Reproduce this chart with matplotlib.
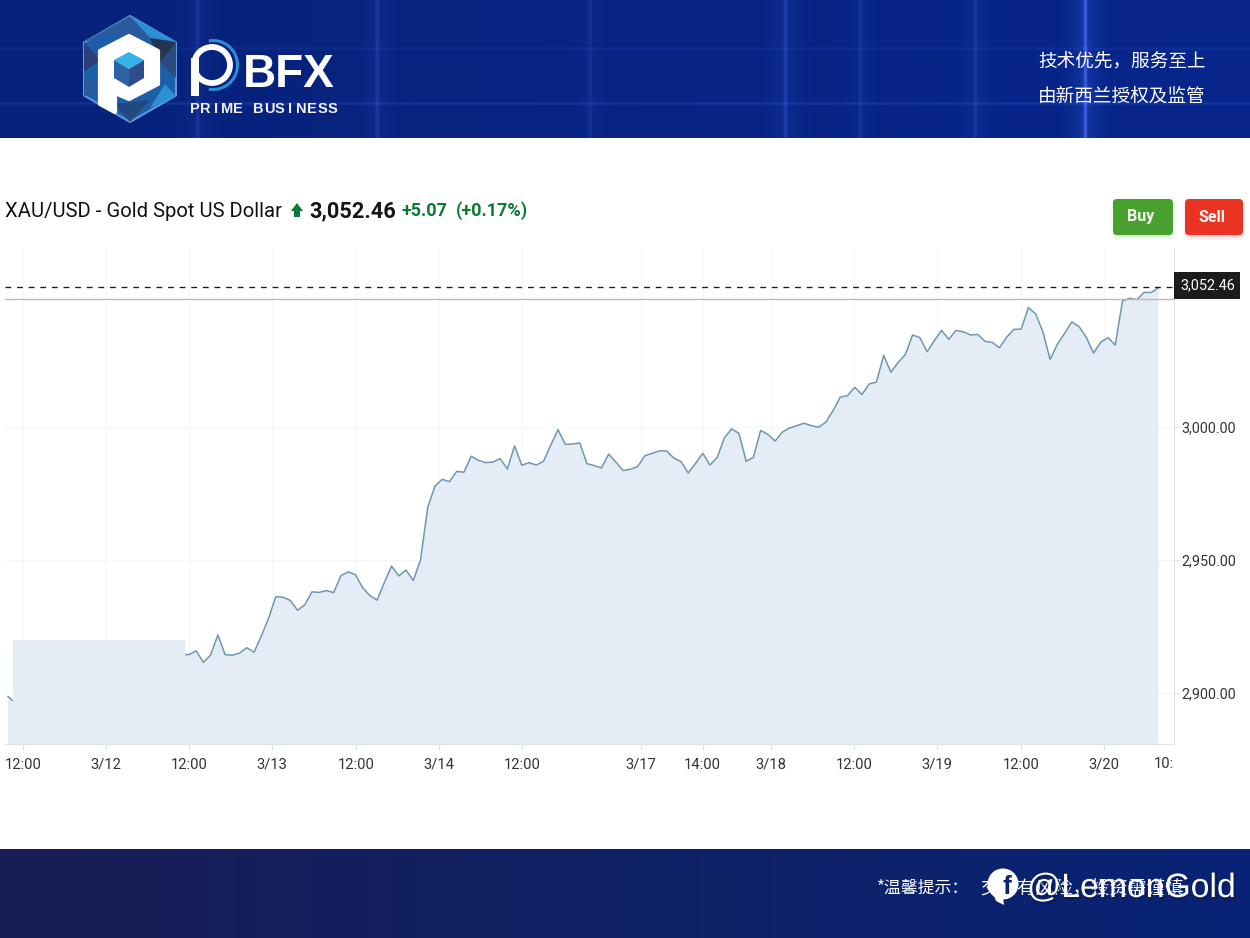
import numpy as np
import matplotlib
matplotlib.use('Agg')
import matplotlib.pyplot as plt
import matplotlib.patheffects as pe
from matplotlib.patches import Polygon, FancyBboxPatch, Circle, Wedge, Rectangle

# price per bar, hidden stretch under the flat box is nan
prices_start = [2898.6, 2896.4]
prices_a = [2914.5, 2914.4, 2915.8, 2911.5, 2914.3, 2921.8, 2914.4, 2914.2, 2915.0, 2917.0,
            2915.3, 2921.4, 2928.0, 2936.2, 2936.0, 2934.8, 2931.1, 2933.1, 2938.0, 2937.8,
            2938.5, 2937.7, 2944.1, 2945.5, 2944.5, 2939.6, 2936.6, 2934.9, 2941.5, 2947.7,
            2944.0, 2946.2, 2942.3, 2950.0, 2969.8, 2977.8]
prices_b = [2980.3, 2979.45, 2983.3, 2983.0, 2989.0, 2987.5, 2986.6, 2986.8, 2988.1, 2984.2,
            2992.9, 2985.6, 2986.6, 2985.7, 2987.1, 2993.2, 2999.0, 2993.5, 2993.6, 2994.0,
            2986.2, 2985.5, 2984.6, 2989.8, 2986.8, 2983.6, 2984.1, 2985.1, 2989.2, 2990.1,
            2991.0, 2991.0, 2988.3, 2987.0, 2982.7, 2986.3, 2990.1, 2985.7, 2988.6, 2996.0,
            2999.3, 2997.6, 2987.1, 2988.6, 2998.7, 2997.2, 2994.7, 2998.1, 2999.6, 3000.5,
            3001.4, 3000.5, 2999.9, 3001.8, 3006.1]
prices_c = [3011.2, 3011.8, 3014.9, 3012.2, 3016.2, 3016.9, 3026.9, 3020.6, 3024.3, 3027.3,
            3034.6, 3033.6, 3028.3, 3032.5, 3036.3, 3033.0, 3036.3, 3035.8, 3034.6, 3034.8,
            3032.2, 3031.8, 3029.8, 3033.8, 3036.7, 3036.8, 3044.9, 3042.5, 3035.8, 3025.4,
            3031.1, 3035.2, 3039.5, 3037.7, 3033.7, 3027.8, 3031.9, 3033.6, 3030.8, 3047.4,
            3048.4, 3047.9, 3050.6, 3050.6, 3052.46]
hidden_bars = 22
box_level = 2920.0
last_price = 3052.46
prev_close = 3048.1

x_labels = ['12:00', '3/12', '12:00', '3/13', '12:00', '3/14', '12:00', '3/17', '14:00',
            '3/18', '12:00', '3/19', '12:00', '3/20', '10:']
x_tick_bars = [2.07, 13.54, 25.0, 36.5, 48.1, 59.55, 71.0, 87.45, 96.0, 105.4, 116.9, 128.4, 140.0, 151.45, 159.9]
y_ticks = [2900, 2950, 3000]
y_labels = ['2,900.00', '2,950.00', '3,000.00']

W, H = 1250, 938
SANS = ['Roboto', 'Liberation Sans', 'DejaVu Sans']
CJK = ['Noto Sans CJK SC', 'DejaVu Sans']
STEP = 7.237  # pixels per bar

prices = np.array(prices_start + [np.nan] * hidden_bars + prices_a + prices_b + prices_c)
bars = np.arange(len(prices))

fig = plt.figure(figsize=(W / 100, H / 100), dpi=100, facecolor='white')

# chart area
ax = fig.add_axes([5 / W, 1 - 744 / H, 1169 / W, 496 / H], facecolor='none', zorder=2)
ax.set_xlim((5 - 8) / STEP, (1174 - 8) / STEP)
ax.set_ylim(2880.8, 3067.3)

ax.fill_between(bars, prices, 2880.8, color='#e4edf5', lw=0, zorder=1)
ax.plot(bars, prices, color='#6f98ae', lw=1.1, zorder=2)
# flat box covering the gap in the line
ax.fill_between([0.73, 24.48], box_level, 2880.8, color='#e4edf5', lw=0, zorder=3)

ax.set_xticks(x_tick_bars[:-1])
ax.set_xticklabels(x_labels[:-1], fontfamily=SANS, fontsize=10.6, color='#333333')
ax.text(x_tick_bars[-1] - 0.2, -0.0405, x_labels[-1], transform=ax.get_xaxis_transform(), ha='center', va='center',
        fontfamily=SANS, fontsize=10.6, color='#333333')
ax.yaxis.tick_right()
ax.set_yticks(y_ticks)
ax.set_yticklabels(y_labels, fontfamily=SANS, fontsize=10.4, color='#333333', va='bottom')
for lab in ax.get_yticklabels():
    lab.set_verticalalignment('center_baseline')
ax.tick_params(axis='x', length=4, color='#e0e3e8', pad=6)
ax.tick_params(axis='y', length=4, color='#e0e3e8', pad=1)
ax.grid(True, color='#f5f6f7', lw=0.8, zorder=0)
ax.set_axisbelow(True)
for side in ['top', 'left']:
    ax.spines[side].set_visible(False)
for side in ['bottom', 'right']:
    ax.spines[side].set_color('#e0e3e8')

ax.axhline(prev_close, color='#dcaab4', lw=1.0, zorder=4)
ax.axhline(last_price + 0.3, color='#1a1a1a', lw=0.95, dashes=(4.4, 4.4), zorder=4)

# everything around the chart, in pixel coordinates
top = fig.add_axes([0, 0, 1, 1], facecolor='none', zorder=3)
top.set_axis_off()


def band(y0, y1, left, right, vlines, hlines, glow):
    xs = np.arange(W)[None, :]
    ys = np.arange(y1 - y0)[:, None] + y0
    t = (xs / W)[..., None]
    img = np.array(left)[None, None, :] * (1 - t) + np.array(right)[None, None, :] * t
    img = np.broadcast_to(img, (y1 - y0, W, 3)).copy()
    light = np.zeros((y1 - y0, W))
    for vx, amt in vlines:
        light += amt * np.exp(-((xs - vx) / 1.8) ** 2) + amt * 0.3 * np.exp(-((xs - vx) / 14.0) ** 2)
    for hy, amt in hlines:
        light += amt * np.exp(-((ys - hy) / 1.5) ** 2)
    img += light[..., None] * np.array(glow)
    top.imshow(np.clip(img, 0, 255) / 255, extent=(0, W, y1, y0), aspect='auto', zorder=0)


band(0, 138, (7, 34, 122), (7, 38, 140),
     [(197, .09), (377, .12), (590, .07), (785, .14), (860, .08), (975, .1), (1085, .3)],
     [(48, .05), (103, .1)], (130, 150, 230))
band(849, 938, (24, 30, 84), (8, 36, 118), [], [], (0, 0, 0))

# logo hexagon with facets
cx, cy, rx, ry = 130, 69, 46, 53
hex_pts = [(cx, cy - ry), (cx + rx, cy - ry / 2), (cx + rx, cy + ry / 2), (cx, cy + ry),
           (cx - rx, cy + ry / 2), (cx - rx, cy - ry / 2)]
top.add_patch(Polygon(hex_pts, fc='#1c5fa8', ec='#5f97de', lw=1.5, joinstyle='round', zorder=1))
facets = [([(130, 16), (176, 42), (150, 38)], '#2b8fd6'),
          ([(130, 16), (150, 38), (108, 34), (84, 42)], '#2a5a9c'),
          ([(84, 42), (100, 60), (84, 72)], '#2b3f78'),
          ([(176, 42), (160, 62), (176, 78)], '#2b4a7d'),
          ([(176, 42), (150, 38), (160, 62)], '#25344f'),
          ([(84, 96), (100, 90), (84, 72)], '#2a5a9c'),
          ([(176, 96), (150, 108), (165, 84)], '#2b8fd6'),
          ([(130, 122), (115, 104), (150, 100)], '#23477f')]
for pts, c in facets:
    top.add_patch(Polygon(pts, fc=c, lw=0, zorder=1.1))
p_shape = [(129, 36), (158, 51), (158, 84), (129, 99), (115, 93), (115, 112), (100, 104), (100, 51)]
top.add_patch(Polygon(p_shape, fc='white', ec='white', lw=3, joinstyle='round', zorder=1.2))
top.add_patch(Polygon([(129, 52), (144, 60), (129, 69), (114, 60)], fc='#35b2e8', lw=0, zorder=1.3))
top.add_patch(Polygon([(114, 60), (129, 69), (129, 87), (114, 78)], fc='#2c64a8', lw=0, zorder=1.3))
top.add_patch(Polygon([(144, 60), (129, 69), (129, 87), (144, 78)], fc='#2f4c8c', lw=0, zorder=1.3))

# wordmark
top.add_patch(Wedge((213, 65), 26, -100, 100, width=3, fc='#2a8fd8', lw=0, zorder=1.2))
top.add_patch(Circle((212, 65), 18, fc='none', ec='white', lw=4.2, zorder=1.3))
top.add_patch(Rectangle((191, 58), 8, 38, fc='white', lw=0, zorder=1.3))
top.text(243, 87, 'BFX', family='Liberation Sans', weight='bold', fontsize=33, color='white', va='baseline', zorder=2)
for k, ch in enumerate('PRIME BUSINESS'):
    top.text(195 + k * 10.6, 113, ch, family='Liberation Sans', weight='bold', fontsize=10.5, color='#eef2ff', ha='center', va='baseline', zorder=2)

top.text(1038, 61, '技术优先，服务至上', family=CJK, fontsize=13.4, color='white', va='center', zorder=2)
top.text(1038, 97, '由新西兰授权及监管', family=CJK, fontsize=13.4, color='white', va='center', zorder=2)

# title row
top.text(5, 217, 'XAU/USD - Gold Spot US Dollar', family=SANS, fontsize=14.6, color='#111111', va='baseline')
top.add_patch(Polygon([(297, 203), (303, 211), (300, 211), (300, 217), (294, 217), (294, 211), (291, 211)], fc='#0b7a35', lw=0))
top.text(309, 217, '3,052.46', family=SANS, weight='bold', fontsize=15.7, color='#151515', va='baseline')
top.text(402, 216, '+5.07', family=SANS, weight='bold', fontsize=13, color='#0b7a35', va='baseline')
top.text(456, 216, '(+0.17%)', family=SANS, weight='bold', fontsize=13, color='#0b7a35', va='baseline')

# buy and sell buttons
for x0, x1, c, label in [(1113, 1173, '#48a12e', 'Buy'), (1185, 1243, '#eb3323', 'Sell')]:
    for grow, alpha in [(5, .06), (3, .08), (1.5, .12)]:
        top.add_patch(FancyBboxPatch((x0 + 3 - grow, 202 - grow + 3), x1 - x0 - 6 + 2 * grow, 30 + 2 * grow,
                                     boxstyle='round,pad=0,rounding_size=5', fc=c, lw=0, alpha=alpha))
    top.add_patch(FancyBboxPatch((x0, 199), x1 - x0, 36, boxstyle='round,pad=0,rounding_size=4', fc=c, lw=0))
    top.text((x0 + x1) / 2 - 2, 217, label, family=SANS, weight='bold', fontsize=11.5, color='#f4f7f0', ha='center', va='center')

# last price tag
top.add_patch(Rectangle((1174, 272), 66, 27, fc='#1c1c1c', lw=0))
top.text(1208, 285.5, '3,052.46', family=SANS, fontsize=10.4, color='white', ha='center', va='center')

# footer text and watermark
top.text(877, 888, '*温馨提示：', family=CJK, fontsize=12.2, color='white', va='center', zorder=2)
top.text(980, 888, '交易有风险，投资需谨慎', family=CJK, fontsize=13.3, color='white', va='center', zorder=2)
shadow = [pe.SimpleLineShadow(offset=(1.2, -1.2), shadow_color='#0b1540', alpha=0.9, linewidth=0.6), pe.Normal()]
top.add_patch(Circle((1003, 884), 15.5, fc='white', lw=0, zorder=3))
top.add_patch(Polygon([(993, 893), (1003, 898), (1004, 905), (996, 901)], fc='white', lw=0, zorder=3))
top.text(1007, 887, 'f', family='Liberation Sans', weight='bold', fontsize=19, color='#0d2270', ha='center', va='center', zorder=3.1)
top.text(1027, 897, '@LemonGold', family='Liberation Sans', fontsize=24.3, color='white', va='baseline',
         path_effects=shadow, zorder=3.2)

top.set_xlim(0, W)
top.set_ylim(H, 0)

plt.savefig('out.png', dpi=100)
